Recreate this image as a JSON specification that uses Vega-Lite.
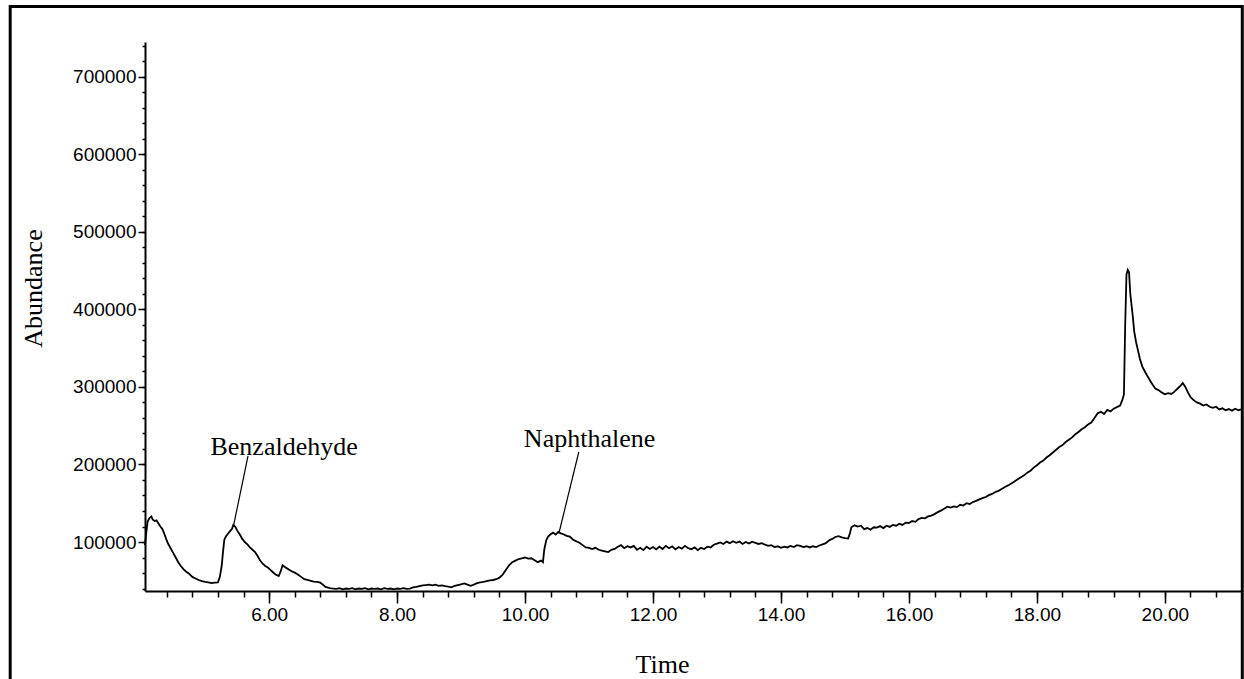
{
  "$schema": "https://vega.github.io/schema/vega-lite/v6.json",
  "autosize": {"type": "none"},
  "padding": {"left": 145, "top": 42, "right": 3, "bottom": 88},
  "width": 1096,
  "height": 549,
  "background": "white",
  "config": {
    "view": {"stroke": null},
    "font": "Liberation Sans",
    "axis": {
      "grid": false,
      "labelFont": "Liberation Sans",
      "labelFontSize": 19,
      "labelColor": "black",
      "titleFont": "Liberation Serif",
      "titleFontSize": 26,
      "titleFontWeight": "normal",
      "titleColor": "black",
      "domainColor": "black",
      "domainWidth": 2,
      "tickColor": "black",
      "tickWidth": 1.5
    }
  },
  "datasets": {
    "tic": [
      {"t": 4.06, "a": 96000}, {"t": 4.08, "a": 112000}, {"t": 4.10, "a": 126000}, {"t": 4.13, "a": 131000},
      {"t": 4.16, "a": 133000}, {"t": 4.18, "a": 129000}, {"t": 4.21, "a": 127000}, {"t": 4.24, "a": 128000},
      {"t": 4.27, "a": 124000}, {"t": 4.30, "a": 120000}, {"t": 4.33, "a": 117000}, {"t": 4.36, "a": 111000},
      {"t": 4.39, "a": 104000}, {"t": 4.42, "a": 98000}, {"t": 4.46, "a": 92000}, {"t": 4.50, "a": 86000},
      {"t": 4.54, "a": 80000}, {"t": 4.58, "a": 74000}, {"t": 4.62, "a": 69000}, {"t": 4.66, "a": 65000},
      {"t": 4.70, "a": 62000}, {"t": 4.75, "a": 59000}, {"t": 4.80, "a": 55000}, {"t": 4.85, "a": 53000},
      {"t": 4.90, "a": 51000}, {"t": 4.95, "a": 49500}, {"t": 5.00, "a": 48500}, {"t": 5.05, "a": 48000},
      {"t": 5.10, "a": 47000}, {"t": 5.15, "a": 47500}, {"t": 5.20, "a": 48000}, {"t": 5.23, "a": 55000},
      {"t": 5.26, "a": 70000}, {"t": 5.28, "a": 88000}, {"t": 5.30, "a": 103000}, {"t": 5.33, "a": 108000},
      {"t": 5.36, "a": 111000}, {"t": 5.39, "a": 114000}, {"t": 5.42, "a": 117000}, {"t": 5.44, "a": 122000},
      {"t": 5.47, "a": 120000}, {"t": 5.50, "a": 115000}, {"t": 5.54, "a": 110000}, {"t": 5.58, "a": 104000},
      {"t": 5.62, "a": 100000}, {"t": 5.66, "a": 97000}, {"t": 5.70, "a": 93000}, {"t": 5.74, "a": 90000},
      {"t": 5.78, "a": 87000}, {"t": 5.82, "a": 82000}, {"t": 5.86, "a": 76000}, {"t": 5.90, "a": 72000},
      {"t": 5.94, "a": 69000}, {"t": 5.98, "a": 67000}, {"t": 6.02, "a": 64000}, {"t": 6.06, "a": 61000},
      {"t": 6.10, "a": 58000}, {"t": 6.15, "a": 56000}, {"t": 6.18, "a": 62000}, {"t": 6.21, "a": 70000},
      {"t": 6.24, "a": 68000}, {"t": 6.28, "a": 66000}, {"t": 6.32, "a": 64000}, {"t": 6.36, "a": 62000},
      {"t": 6.40, "a": 60500}, {"t": 6.45, "a": 58000}, {"t": 6.50, "a": 55000}, {"t": 6.55, "a": 52000},
      {"t": 6.60, "a": 51000}, {"t": 6.65, "a": 50000}, {"t": 6.70, "a": 49000}, {"t": 6.75, "a": 48500},
      {"t": 6.80, "a": 47500}, {"t": 6.84, "a": 45000}, {"t": 6.88, "a": 42000}, {"t": 6.95, "a": 40500},
      {"t": 7.00, "a": 40000}, {"t": 7.05, "a": 39500}, {"t": 7.10, "a": 40500}, {"t": 7.15, "a": 39000},
      {"t": 7.20, "a": 40000}, {"t": 7.25, "a": 39500}, {"t": 7.30, "a": 40500}, {"t": 7.35, "a": 39000},
      {"t": 7.40, "a": 40000}, {"t": 7.45, "a": 39500}, {"t": 7.50, "a": 40500}, {"t": 7.55, "a": 39000},
      {"t": 7.60, "a": 40000}, {"t": 7.65, "a": 39500}, {"t": 7.70, "a": 40000}, {"t": 7.75, "a": 39000},
      {"t": 7.80, "a": 40500}, {"t": 7.85, "a": 39500}, {"t": 7.90, "a": 40000}, {"t": 7.95, "a": 39000},
      {"t": 8.00, "a": 40000}, {"t": 8.05, "a": 39500}, {"t": 8.10, "a": 40500}, {"t": 8.15, "a": 39500},
      {"t": 8.20, "a": 40000}, {"t": 8.25, "a": 41500}, {"t": 8.30, "a": 42000}, {"t": 8.35, "a": 43000},
      {"t": 8.40, "a": 44000}, {"t": 8.45, "a": 44500}, {"t": 8.50, "a": 45000}, {"t": 8.55, "a": 44000},
      {"t": 8.60, "a": 45000}, {"t": 8.65, "a": 43500}, {"t": 8.70, "a": 44000}, {"t": 8.75, "a": 43000},
      {"t": 8.80, "a": 42500}, {"t": 8.85, "a": 41500}, {"t": 8.90, "a": 43500}, {"t": 8.95, "a": 44500},
      {"t": 9.00, "a": 45500}, {"t": 9.05, "a": 46500}, {"t": 9.10, "a": 45000}, {"t": 9.15, "a": 43500},
      {"t": 9.20, "a": 45000}, {"t": 9.25, "a": 47000}, {"t": 9.30, "a": 48000}, {"t": 9.35, "a": 48500},
      {"t": 9.40, "a": 49500}, {"t": 9.45, "a": 50500}, {"t": 9.50, "a": 51000}, {"t": 9.55, "a": 52000},
      {"t": 9.60, "a": 54000}, {"t": 9.65, "a": 58000}, {"t": 9.70, "a": 64000}, {"t": 9.75, "a": 70000},
      {"t": 9.80, "a": 74000}, {"t": 9.85, "a": 76000}, {"t": 9.90, "a": 78000}, {"t": 9.95, "a": 79000},
      {"t": 10.00, "a": 80000}, {"t": 10.05, "a": 78500}, {"t": 10.10, "a": 79000}, {"t": 10.15, "a": 76500},
      {"t": 10.20, "a": 74000}, {"t": 10.25, "a": 76000}, {"t": 10.28, "a": 74000}, {"t": 10.30, "a": 90000},
      {"t": 10.33, "a": 102000}, {"t": 10.36, "a": 107000}, {"t": 10.40, "a": 110000}, {"t": 10.44, "a": 112000},
      {"t": 10.48, "a": 109500}, {"t": 10.52, "a": 113000}, {"t": 10.56, "a": 111000}, {"t": 10.60, "a": 110000},
      {"t": 10.65, "a": 108000}, {"t": 10.70, "a": 107000}, {"t": 10.75, "a": 103000}, {"t": 10.80, "a": 101000},
      {"t": 10.85, "a": 99000}, {"t": 10.90, "a": 96000}, {"t": 10.95, "a": 93000}, {"t": 11.00, "a": 92500},
      {"t": 11.05, "a": 91000}, {"t": 11.10, "a": 92500}, {"t": 11.15, "a": 90000}, {"t": 11.20, "a": 89000},
      {"t": 11.25, "a": 88000}, {"t": 11.30, "a": 87000}, {"t": 11.35, "a": 90000}, {"t": 11.40, "a": 91000},
      {"t": 11.45, "a": 94000}, {"t": 11.50, "a": 96000}, {"t": 11.55, "a": 92000}, {"t": 11.60, "a": 94500},
      {"t": 11.65, "a": 93000}, {"t": 11.70, "a": 95000}, {"t": 11.75, "a": 90000}, {"t": 11.80, "a": 92500},
      {"t": 11.85, "a": 89500}, {"t": 11.90, "a": 94000}, {"t": 11.95, "a": 91000}, {"t": 12.00, "a": 93500},
      {"t": 12.05, "a": 90500}, {"t": 12.10, "a": 94000}, {"t": 12.15, "a": 91000}, {"t": 12.20, "a": 95000},
      {"t": 12.25, "a": 92000}, {"t": 12.30, "a": 94500}, {"t": 12.35, "a": 90500}, {"t": 12.40, "a": 93500},
      {"t": 12.45, "a": 91500}, {"t": 12.50, "a": 95000}, {"t": 12.55, "a": 92000}, {"t": 12.60, "a": 90500},
      {"t": 12.65, "a": 93000}, {"t": 12.70, "a": 89500}, {"t": 12.75, "a": 92500}, {"t": 12.80, "a": 91000},
      {"t": 12.85, "a": 94000}, {"t": 12.90, "a": 93000}, {"t": 12.95, "a": 96500}, {"t": 13.00, "a": 98000},
      {"t": 13.05, "a": 99500}, {"t": 13.10, "a": 97500}, {"t": 13.15, "a": 100500}, {"t": 13.20, "a": 98500},
      {"t": 13.25, "a": 101000}, {"t": 13.30, "a": 99000}, {"t": 13.35, "a": 100500}, {"t": 13.40, "a": 97500},
      {"t": 13.45, "a": 100000}, {"t": 13.50, "a": 98000}, {"t": 13.55, "a": 100500}, {"t": 13.60, "a": 99000},
      {"t": 13.65, "a": 97500}, {"t": 13.70, "a": 98500}, {"t": 13.75, "a": 96500}, {"t": 13.80, "a": 95000},
      {"t": 13.85, "a": 96000}, {"t": 13.90, "a": 93500}, {"t": 13.95, "a": 94500}, {"t": 14.00, "a": 92500},
      {"t": 14.05, "a": 94000}, {"t": 14.10, "a": 93000}, {"t": 14.15, "a": 95000}, {"t": 14.20, "a": 93500},
      {"t": 14.25, "a": 96000}, {"t": 14.30, "a": 95000}, {"t": 14.35, "a": 93500}, {"t": 14.40, "a": 94500},
      {"t": 14.45, "a": 93000}, {"t": 14.50, "a": 94500}, {"t": 14.55, "a": 93500}, {"t": 14.60, "a": 95500},
      {"t": 14.65, "a": 97000}, {"t": 14.70, "a": 98500}, {"t": 14.75, "a": 102000}, {"t": 14.80, "a": 104000},
      {"t": 14.85, "a": 106500}, {"t": 14.90, "a": 107500}, {"t": 14.95, "a": 106000}, {"t": 15.00, "a": 105000},
      {"t": 15.05, "a": 104500}, {"t": 15.08, "a": 112000}, {"t": 15.10, "a": 119000}, {"t": 15.15, "a": 121500},
      {"t": 15.20, "a": 120000}, {"t": 15.25, "a": 121000}, {"t": 15.30, "a": 116500}, {"t": 15.35, "a": 118000},
      {"t": 15.40, "a": 116000}, {"t": 15.45, "a": 119000}, {"t": 15.50, "a": 118500}, {"t": 15.55, "a": 120500},
      {"t": 15.60, "a": 118000}, {"t": 15.65, "a": 121000}, {"t": 15.70, "a": 119500}, {"t": 15.75, "a": 122000},
      {"t": 15.80, "a": 121000}, {"t": 15.85, "a": 123500}, {"t": 15.90, "a": 122000}, {"t": 15.95, "a": 125000},
      {"t": 16.00, "a": 124500}, {"t": 16.05, "a": 127000}, {"t": 16.10, "a": 126000}, {"t": 16.15, "a": 129500},
      {"t": 16.20, "a": 131000}, {"t": 16.25, "a": 130500}, {"t": 16.30, "a": 133000}, {"t": 16.35, "a": 134000},
      {"t": 16.40, "a": 136000}, {"t": 16.45, "a": 138500}, {"t": 16.50, "a": 140500}, {"t": 16.55, "a": 143000},
      {"t": 16.60, "a": 145500}, {"t": 16.65, "a": 144500}, {"t": 16.70, "a": 146000}, {"t": 16.75, "a": 145000},
      {"t": 16.80, "a": 148000}, {"t": 16.85, "a": 147000}, {"t": 16.90, "a": 150000}, {"t": 16.95, "a": 149000},
      {"t": 17.00, "a": 151500}, {"t": 17.05, "a": 153000}, {"t": 17.10, "a": 155000}, {"t": 17.15, "a": 156500},
      {"t": 17.20, "a": 158000}, {"t": 17.25, "a": 160500}, {"t": 17.30, "a": 162000}, {"t": 17.35, "a": 164500},
      {"t": 17.40, "a": 166000}, {"t": 17.45, "a": 168500}, {"t": 17.50, "a": 171000}, {"t": 17.55, "a": 173000},
      {"t": 17.60, "a": 175500}, {"t": 17.65, "a": 178000}, {"t": 17.70, "a": 181000}, {"t": 17.75, "a": 183500},
      {"t": 17.80, "a": 186000}, {"t": 17.85, "a": 189500}, {"t": 17.90, "a": 192000}, {"t": 17.95, "a": 196000},
      {"t": 18.00, "a": 199000}, {"t": 18.05, "a": 202500}, {"t": 18.10, "a": 205000}, {"t": 18.15, "a": 209000},
      {"t": 18.20, "a": 212000}, {"t": 18.25, "a": 215500}, {"t": 18.30, "a": 219000}, {"t": 18.35, "a": 222500},
      {"t": 18.40, "a": 225000}, {"t": 18.45, "a": 229000}, {"t": 18.50, "a": 232000}, {"t": 18.55, "a": 235000},
      {"t": 18.60, "a": 239000}, {"t": 18.65, "a": 242000}, {"t": 18.70, "a": 245500}, {"t": 18.75, "a": 248000},
      {"t": 18.80, "a": 251500}, {"t": 18.85, "a": 254000}, {"t": 18.90, "a": 260000}, {"t": 18.95, "a": 266000},
      {"t": 19.00, "a": 268000}, {"t": 19.05, "a": 265000}, {"t": 19.10, "a": 270500}, {"t": 19.15, "a": 268500},
      {"t": 19.20, "a": 272000}, {"t": 19.25, "a": 274000}, {"t": 19.30, "a": 276000}, {"t": 19.33, "a": 282000},
      {"t": 19.36, "a": 290000}, {"t": 19.38, "a": 380000}, {"t": 19.40, "a": 445000}, {"t": 19.42, "a": 451000},
      {"t": 19.44, "a": 448000}, {"t": 19.46, "a": 420000}, {"t": 19.48, "a": 405000}, {"t": 19.50, "a": 390000},
      {"t": 19.52, "a": 372000}, {"t": 19.55, "a": 358000}, {"t": 19.58, "a": 347000}, {"t": 19.61, "a": 336000},
      {"t": 19.65, "a": 326000}, {"t": 19.70, "a": 318000}, {"t": 19.75, "a": 311000}, {"t": 19.80, "a": 304000},
      {"t": 19.85, "a": 298000}, {"t": 19.90, "a": 296000}, {"t": 19.95, "a": 293000}, {"t": 20.00, "a": 290500},
      {"t": 20.05, "a": 292000}, {"t": 20.10, "a": 291000}, {"t": 20.15, "a": 294000}, {"t": 20.20, "a": 298000},
      {"t": 20.25, "a": 302000}, {"t": 20.28, "a": 305000}, {"t": 20.32, "a": 300000}, {"t": 20.36, "a": 293000},
      {"t": 20.40, "a": 287000}, {"t": 20.45, "a": 283000}, {"t": 20.50, "a": 280000}, {"t": 20.55, "a": 278500},
      {"t": 20.60, "a": 276000}, {"t": 20.65, "a": 277500}, {"t": 20.70, "a": 274500}, {"t": 20.75, "a": 273000},
      {"t": 20.80, "a": 274500}, {"t": 20.85, "a": 271000}, {"t": 20.90, "a": 272500}, {"t": 20.95, "a": 270000},
      {"t": 21.00, "a": 271500}, {"t": 21.05, "a": 269500}, {"t": 21.10, "a": 272000}, {"t": 21.15, "a": 270000},
      {"t": 21.19, "a": 271000}
    ],
    "peaks": [
      {"name": "Benzaldehyde", "label_t": 6.234, "label_a": 212300, "top_t": 5.67, "top_a": 211000, "peak_t": 5.44, "peak_a": 119400},
      {"name": "Naphthalene", "label_t": 11.008, "label_a": 222600, "top_t": 10.84, "top_a": 216100, "peak_t": 10.53, "peak_a": 111600}
    ],
    "frame": [{}]
  },
  "layer": [
    {
      "data": {"name": "tic"},
      "mark": {"type": "line", "color": "black", "strokeWidth": 1.8, "interpolate": "linear"},
      "encoding": {
        "x": {
          "field": "t", "type": "quantitative",
          "scale": {"domain": [4.06, 21.19], "nice": false, "zero": false},
          "axis": {
            "orient": "bottom", "title": "Time",
            "values": [6, 8, 10, 12, 14, 16, 18, 20], "format": ".2f",
            "tickSize": 12, "labelPadding": 2, "labelFlush": false,
            "titleX": 517, "titleY": 81, "titleBaseline": "alphabetic", "titleAnchor": null, "titleAlign": "center"
          }
        },
        "y": {
          "field": "a", "type": "quantitative",
          "scale": {"domain": [36800, 745000], "nice": false, "zero": false},
          "axis": {
            "orient": "left", "title": "Abundance",
            "values": [100000, 200000, 300000, 400000, 500000, 600000, 700000], "format": "d",
            "tickSize": 7, "labelPadding": 2,
            "titleX": -112, "titleY": 246, "titleAngle": -90, "titleBaseline": "middle", "titleAlign": "center"
          }
        }
      }
    },
    {
      "data": {"name": "peaks"},
      "mark": {"type": "rule", "color": "black", "strokeWidth": 1.2},
      "encoding": {
        "x": {
          "field": "peak_t", "type": "quantitative",
          "scale": {"domain": [4.06, 21.19], "nice": false, "zero": false},
          "axis": {
            "orient": "bottom", "title": null, "labels": false, "domain": false,
            "values": [4.4, 4.8, 5.2, 5.6, 6, 6.4, 6.8, 7.2, 7.6, 8, 8.4, 8.8, 9.2, 9.6, 10, 10.4, 10.8, 11.2, 11.6, 12, 12.4, 12.8, 13.2, 13.6, 14, 14.4, 14.8, 15.2, 15.6, 16, 16.4, 16.8, 17.2, 17.6, 18, 18.4, 18.8, 19.2, 19.6, 20, 20.4, 20.8],
            "tickSize": 6
          }
        },
        "x2": {"field": "top_t"},
        "y": {
          "field": "peak_a", "type": "quantitative",
          "scale": {"domain": [36800, 745000], "nice": false, "zero": false},
          "axis": {
            "orient": "left", "title": null, "labels": false, "domain": false,
            "values": [40000, 60000, 80000, 100000, 120000, 140000, 160000, 180000, 200000, 220000, 240000, 260000, 280000, 300000, 320000, 340000, 360000, 380000, 400000, 420000, 440000, 460000, 480000, 500000, 520000, 540000, 560000, 580000, 600000, 620000, 640000, 660000, 680000, 700000, 720000, 740000],
            "tickSize": 3
          }
        },
        "y2": {"field": "top_a"}
      }
    },
    {
      "data": {"name": "peaks"},
      "mark": {"type": "text", "font": "Liberation Serif", "fontSize": 26, "color": "black", "align": "center", "baseline": "alphabetic"},
      "encoding": {
        "x": {"field": "label_t", "type": "quantitative", "scale": {"domain": [4.06, 21.19], "nice": false, "zero": false}, "axis": null},
        "y": {"field": "label_a", "type": "quantitative", "scale": {"domain": [36800, 745000], "nice": false, "zero": false}, "axis": null},
        "text": {"field": "name"}
      }
    },
    {
      "data": {"name": "frame"},
      "mark": {"type": "rect", "filled": false, "stroke": "black", "strokeWidth": 3, "clip": false},
      "encoding": {
        "x": {"datum": 1.953, "type": "quantitative", "scale": {"domain": [4.06, 21.19], "nice": false, "zero": false}, "axis": null},
        "x2": {"datum": 21.21},
        "y": {"datum": 790700, "type": "quantitative", "scale": {"domain": [36800, 745000], "nice": false, "zero": false}, "axis": null},
        "y2": {"datum": -110000}
      }
    }
  ],
  "resolve": {"axis": {"x": "independent", "y": "independent"}}
}
